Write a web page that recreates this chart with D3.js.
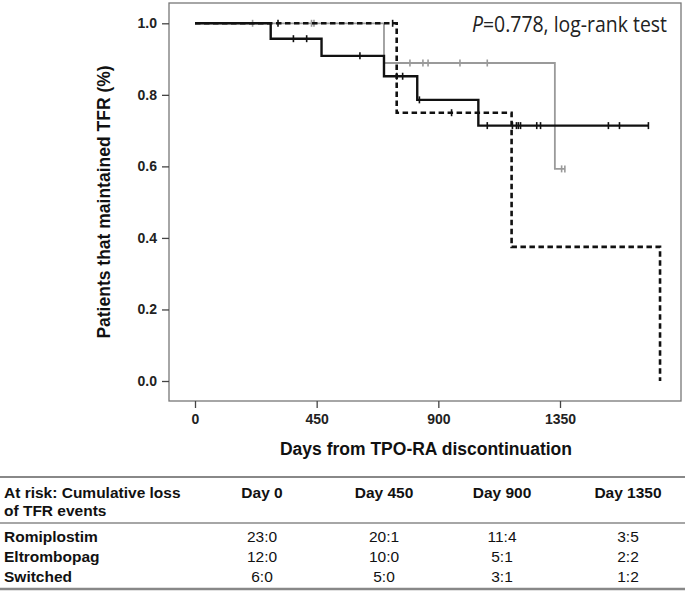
<!DOCTYPE html>
<html lang="en">
<head>
<meta charset="utf-8">
<title>TFR Kaplan-Meier</title>
<script src="https://d3js.org/d3.v7.min.js"></script>
<style>
  body { margin: 0; background: #fff; }
  text { font-family: "Liberation Sans", Arial, sans-serif; }
</style>
</head>
<body>
<div id="chart"></div>
<script>
// survival steps: [day, survival after the event]
var romiSteps = [[0, 1], [280, 0.957], [468, 0.909], [699, 0.852], [822, 0.786], [1048, 0.714]];
var romiEnd = 1677;
var romiCensor = [364, 413, 610, 746, 768, 830, 1081, 1174, 1189, 1196, 1204, 1264, 1278, 1529, 1570, 1677];

var eltSteps = [[0, 1], [699, 0.889], [1331, 0.593]];
var eltEnd = 1368;
var eltCensor = [213, 431, 440, 795, 843, 862, 980, 1081, 1356, 1368];

var swSteps = [[0, 1], [746, 0.75], [1171, 0.375], [1720, 0]];
var swEnd = 1720;
var swCensor = [307, 731, 949];

var xTicks = [0, 450, 900, 1350];
var yTicks = [0, 0.2, 0.4, 0.6, 0.8, 1.0];

// at-risk table
var tableHead = ["Day 0", "Day 450", "Day 900", "Day 1350"];
var groups = ["Romiplostim", "Eltrombopag", "Switched"];
var atRisk = [
  ["23:0", "20:1", "11:4", "3:5"],
  ["12:0", "10:0", "5:1", "2:2"],
  ["6:0", "5:0", "3:1", "1:2"]
];

var w = 685, h = 591;
var svg = d3.select("#chart").append("svg").attr("width", w).attr("height", h);

var x = d3.scaleLinear().domain([0, 1350]).range([195, 560]);
var y = d3.scaleLinear().domain([0, 1]).range([381, 23.3]);

// frame
svg.append("rect")
  .attr("x", 169).attr("y", 3).attr("width", 512).attr("height", 398)
  .attr("fill", "none").attr("stroke", "#777").attr("stroke-width", 1.3);

// axes
var xAxis = svg.append("g").attr("transform", "translate(0,401)")
  .call(d3.axisBottom(x).tickValues(xTicks).tickSize(7).tickPadding(6).tickFormat(d3.format("d")));
var yAxis = svg.append("g").attr("transform", "translate(169,0)")
  .call(d3.axisLeft(y).tickValues(yTicks).tickSize(7).tickPadding(5).tickFormat(d3.format(".1f")));
[xAxis, yAxis].forEach(function(a) {
  a.select(".domain").remove();
  a.selectAll(".tick line").attr("stroke", "#444").attr("stroke-width", 1.3);
  a.selectAll(".tick text").attr("fill", "#222").style("font-size", "14px").style("font-weight", "bold")
    .style("font-family", "'Liberation Sans', Arial, sans-serif");
});

svg.append("text")
  .attr("transform", "translate(110,202) rotate(-90)")
  .attr("text-anchor", "middle")
  .style("font-size", "17.5px").style("font-weight", "bold").attr("fill", "#111")
  .text("Patients that maintained TFR (%)");

svg.append("text")
  .attr("x", 426).attr("y", 455)
  .attr("text-anchor", "middle")
  .style("font-size", "17.5px").style("font-weight", "bold").attr("fill", "#111")
  .text("Days from TPO-RA discontinuation");

// p value
var pt = svg.append("text")
  .attr("x", 667).attr("y", 32)
  .attr("text-anchor", "end")
  .style("font-family", "'Open Sans', 'Noto Sans', sans-serif")
  .style("font-size", "21px").attr("fill", "#222")
  .attr("textLength", 195).attr("lengthAdjust", "spacingAndGlyphs");
pt.append("tspan").style("font-style", "italic").text("P");
pt.append("tspan").text("=0.778, log-rank test");

var line = d3.line()
  .x(function(d) { return x(d[0]); })
  .y(function(d) { return y(d[1]); })
  .curve(d3.curveStepAfter);

function survAt(steps, t) {
  var s = steps[0][1];
  steps.forEach(function(d) { if (d[0] <= t) s = d[1]; });
  return s;
}

function drawGroup(steps, end, censor, color, width, dash) {
  var pts = steps.slice();
  if (pts[pts.length - 1][0] < end) pts.push([end, pts[pts.length - 1][1]]);
  svg.append("path")
    .attr("d", line(pts))
    .attr("fill", "none")
    .attr("stroke", color)
    .attr("stroke-width", width)
    .attr("stroke-dasharray", dash);
  svg.append("g").selectAll("line")
    .data(censor)
    .enter().append("line")
    .attr("x1", function(d) { return x(d); })
    .attr("x2", function(d) { return x(d); })
    .attr("y1", function(d) { return y(survAt(steps, d)) - 3.5; })
    .attr("y2", function(d) { return y(survAt(steps, d)) + 3.5; })
    .attr("stroke", color)
    .attr("stroke-width", 1.6);
}

drawGroup(eltSteps, eltEnd, eltCensor, "#9a9a9a", 1.8, null);
drawGroup(swSteps, swEnd, swCensor, "#111", 2.6, "5.5,3.5");
drawGroup(romiSteps, romiEnd, romiCensor, "#111", 2.4, null);

// at-risk table
var colX = [262, 384, 502, 628];
var rowY = [542, 562, 582];
var fs = "15.5px";

svg.append("line").attr("x1", 0).attr("x2", w).attr("y1", 477).attr("y2", 477)
  .attr("stroke", "#888").attr("stroke-width", 2);
svg.append("line").attr("x1", 0).attr("x2", w).attr("y1", 523).attr("y2", 523)
  .attr("stroke", "#888").attr("stroke-width", 1.5);
svg.append("line").attr("x1", 0).attr("x2", w).attr("y1", 589).attr("y2", 589)
  .attr("stroke", "#888").attr("stroke-width", 2.5);

svg.append("text").attr("x", 4).attr("y", 498)
  .style("font-size", fs).style("font-weight", "bold").attr("fill", "#111")
  .text("At risk: Cumulative loss");
svg.append("text").attr("x", 4).attr("y", 516)
  .style("font-size", fs).style("font-weight", "bold").attr("fill", "#111")
  .text("of TFR events");

svg.selectAll(".head").data(tableHead).enter().append("text")
  .attr("x", function(d, i) { return colX[i]; }).attr("y", 498)
  .attr("text-anchor", "middle")
  .style("font-size", fs).style("font-weight", "bold").attr("fill", "#111")
  .text(function(d) { return d; });

svg.selectAll(".grp").data(groups).enter().append("text")
  .attr("x", 4).attr("y", function(d, i) { return rowY[i]; })
  .style("font-size", fs).style("font-weight", "bold").attr("fill", "#111")
  .text(function(d) { return d; });

atRisk.forEach(function(row, r) {
  svg.append("g").selectAll("text").data(row).enter().append("text")
    .attr("x", function(d, i) { return colX[i]; })
    .attr("y", rowY[r])
    .attr("text-anchor", "middle")
    .style("font-size", fs).attr("fill", "#111")
    .text(function(d) { return d; });
});
</script>
</body>
</html>
